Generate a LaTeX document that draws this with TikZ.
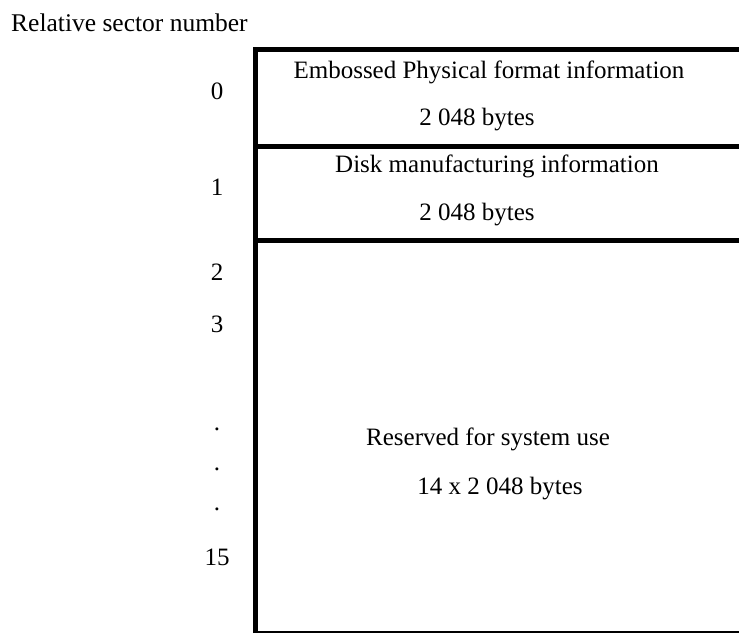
\documentclass[tikz,border=0pt]{standalone}
\usepackage{fontspec}
\setmainfont{Liberation Serif}
\begin{document}
\begin{tikzpicture}[x=1pt,y=-1pt,
  thickline/.style={line width=5pt},
  thinline/.style={line width=1.5pt},
  lbl/.style={font=\fontsize{25}{30}\selectfont, inner sep=0pt, anchor=base},
  num/.style={font=\fontsize{25}{30}\selectfont, inner sep=0pt, anchor=base}]
\useasboundingbox (0,0) rectangle (739,633);
% structure coordinates
\coordinate (tl) at (255.5,47);
\coordinate (tr) at (739,49.5);
\coordinate (bl) at (255.5,633);
\coordinate (m1l) at (255.5,146.5);
\coordinate (m1r) at (739,146.5);
\coordinate (m2l) at (255.5,240);
\coordinate (m2r) at (739,240);
\coordinate (b0) at (255.5,632);
\coordinate (b1) at (739,632);
\draw[thickline] (bl) -- (tl);
\draw[thickline] (253,49.5) -- (tr);
\draw[thickline] (m1l) -- (m1r);
\draw[thickline] (m2l) -- (m2r);
\draw[thinline] (b0) -- (b1);
% title
\node[lbl, anchor=base west, font=\fontsize{25.5}{30}\selectfont] (title) at (11,31) {Relative sector number};
% box texts
\node[lbl] (t1) at (489,78) {Embossed Physical format information};
\node[lbl] (t1b) at (477,125) {2 048 bytes};
\node[lbl] (t2) at (497,172) {Disk manufacturing information};
\node[lbl] (t2b) at (477,220) {2 048 bytes};
\node[lbl] (t3) at (488,445) {Reserved for system use};
\node[lbl] (t3b) at (500,494) {14 x 2 048 bytes};
% sector numbers
\node[num] (n0) at (217,99) {0};
\node[num] (n1) at (217,195) {1};
\node[num] (n2) at (217,280) {2};
\node[num] (n3) at (217,332) {3};
\node[num] (d1) at (217,430) {.};
\node[num] (d2) at (217,470) {.};
\node[num] (d3) at (217,510) {.};
\node[num] (n15) at (217,565) {15};
\end{tikzpicture}
\end{document}
